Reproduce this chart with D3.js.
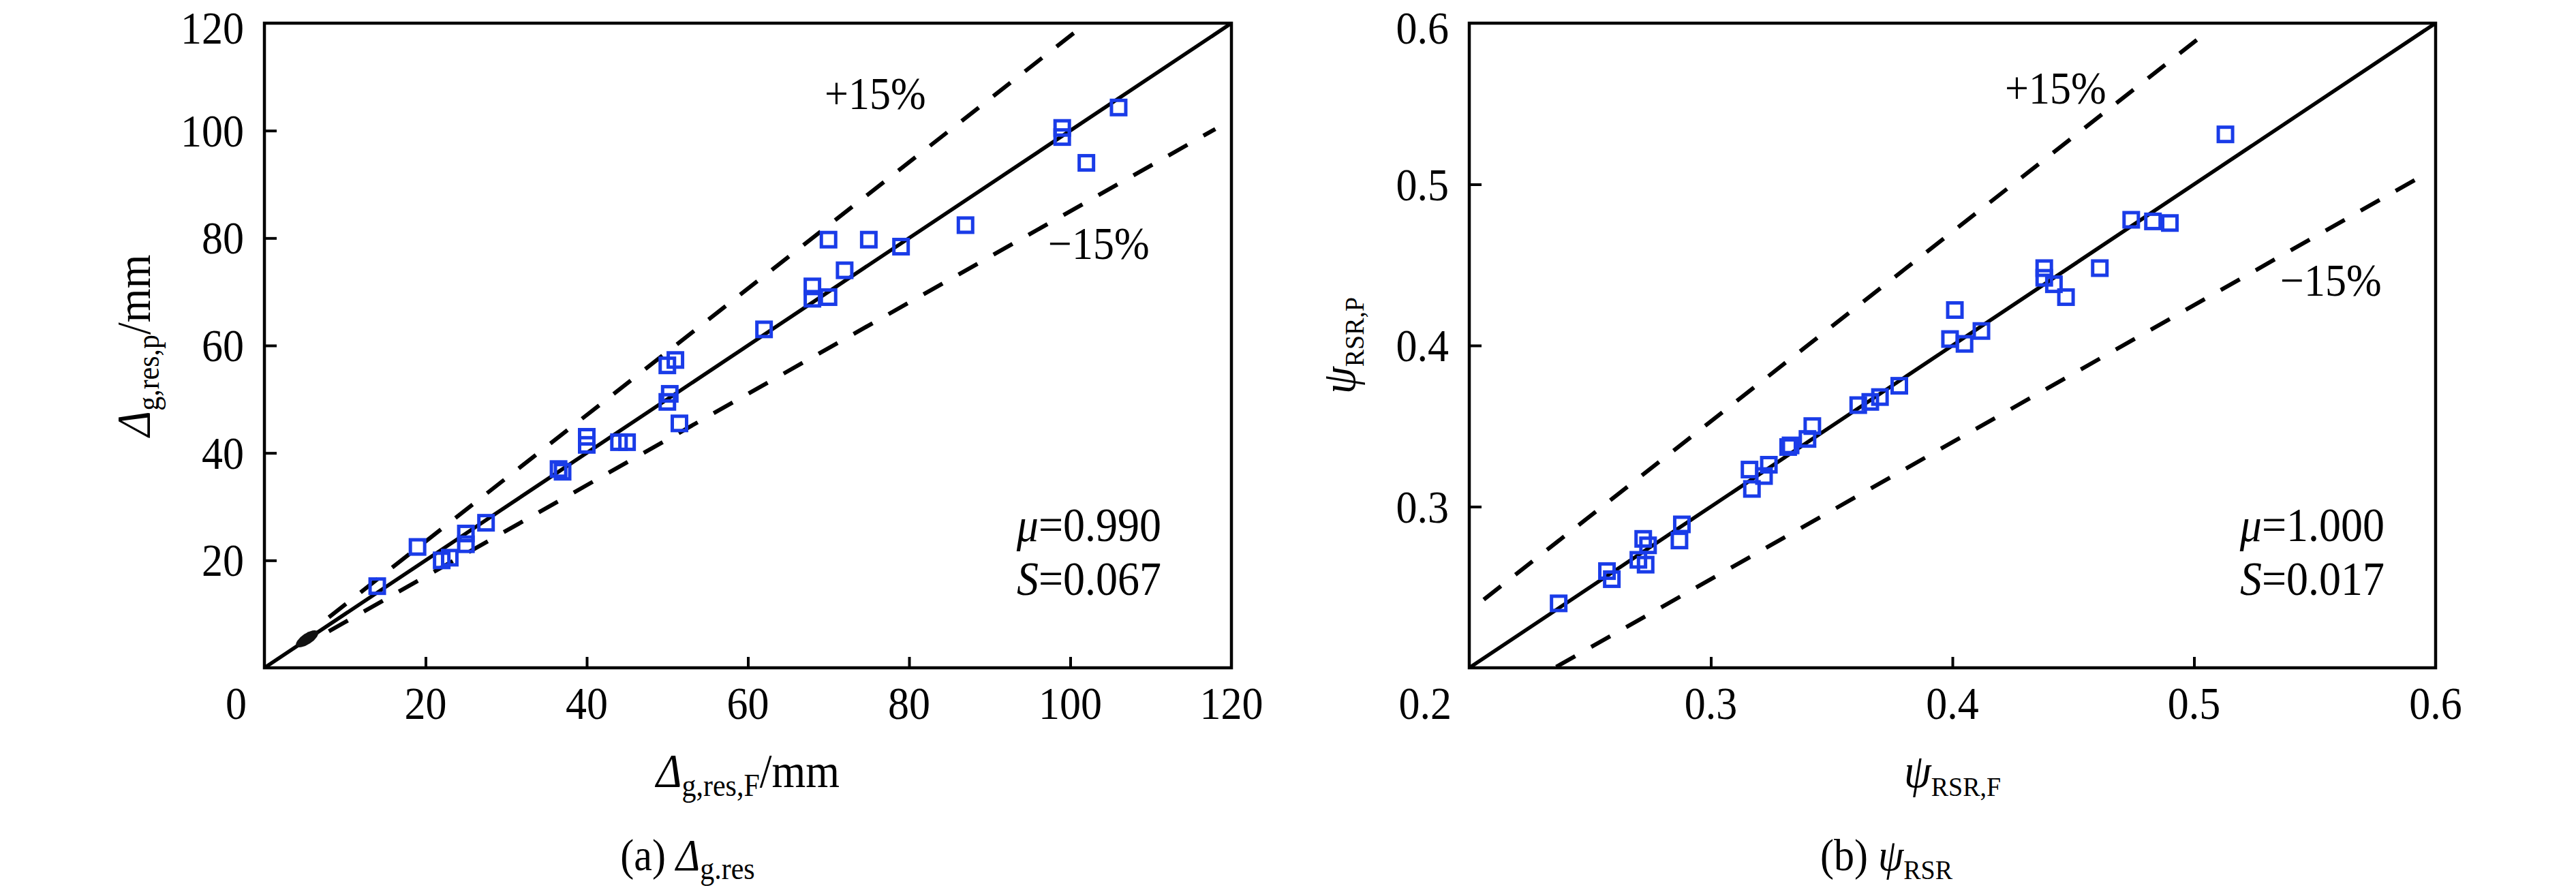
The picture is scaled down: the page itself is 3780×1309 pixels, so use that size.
<!DOCTYPE html>
<html>
<head>
<meta charset="utf-8">
<script src="https://cdn.jsdelivr.net/npm/d3@7"></script>
<style>
  body { margin: 0; background: #fff; }
  text { font-family: "Liberation Serif", "Times New Roman", serif; fill: #000; }
</style>
</head>
<body>
<div id="chart"></div>
<script>
// ---- data ----
// (a) residual drift: FE result vs predicted
const gresF = [14, 19, 22, 23, 25, 25, 27.5, 36.5, 37, 40, 40, 44, 45, 50, 50.3, 50, 51, 51.5,
               62, 68, 68, 70, 70, 72, 75, 79, 87, 99, 99, 102, 106];
const gresP = [15.2, 22.5, 20, 20.5, 23, 25, 27, 37, 36.5, 41.5, 43, 42, 42, 49.5, 51, 56.3, 57.3, 45.5,
               63, 71, 68.7, 69, 79.7, 74, 79.7, 78.4, 82.4, 98.8, 100.5, 94, 104.3];
const gresTicks = [0, 20, 40, 60, 80, 100, 120];
const gresStats = ["0.990", "0.067"];
const gresBlob = [[5.3, 5.4]];

// (b) residual strength ratio
const rsrF = [0.237, 0.257, 0.259, 0.270, 0.272, 0.273, 0.274, 0.287, 0.288, 0.316, 0.317, 0.322,
              0.324, 0.332, 0.333, 0.340, 0.342, 0.361, 0.366, 0.370, 0.378, 0.399, 0.401, 0.405,
              0.412, 0.438, 0.438, 0.442, 0.447, 0.461, 0.474, 0.483, 0.490, 0.513];
const rsrP = [0.240, 0.260, 0.255, 0.267, 0.280, 0.264, 0.276, 0.279, 0.289, 0.323, 0.311, 0.319,
              0.326, 0.337, 0.338, 0.342, 0.350, 0.363, 0.365, 0.368, 0.375, 0.404, 0.422, 0.401,
              0.409, 0.448, 0.442, 0.438, 0.430, 0.448, 0.478, 0.477, 0.476, 0.531];
const rsrTicks = [0.2, 0.3, 0.4, 0.5, 0.6];
const rsrStats = ["1.000", "0.017"];

const bandLabels = ["+15%", "\u221215%"];
const bandFactor = 0.85;

// ---- layout ----
const width = 3780, height = 1309;
const plotTop = 34, plotBottom = 980;
const stretch = 1.08;   // the source type is a little taller than it is wide

const svg = d3.select("#chart").append("svg")
    .attr("width", width)
    .attr("height", height);

svg.append("rect").attr("width", width).attr("height", height).attr("fill", "#fff");

const panels = [
  {
    id: "a", left: 388, right: 1807, ticks: gresTicks, fmt: d3.format("d"),
    xs: gresF, ys: gresP, stats: gresStats, blob: gresBlob,
    upper: [8, 101.6], lower: [8, 118],
    plusPos: [1210, 160], minusPos: [1538, 380], statsRight: 1704,
    yTitleX: 220, caption: 1009,
    sym: "\u0394", subY: "g,res,p", subX: "g,res,F", unit: "/mm",
    capSub: "g.res", capLabel: "(a) ", subSize: 42
  },
  {
    id: "b", left: 2156, right: 3574, ticks: rsrTicks, fmt: d3.format(".1f"),
    xs: rsrF, ys: rsrP, stats: rsrStats, blob: [],
    upper: [0.206, 0.5035], lower: [0.236, 0.594],
    plusPos: [2942, 152], minusPos: [3346, 434], statsRight: 3499,
    yTitleX: 1988, caption: 2768,
    sym: "\u03C8", subY: "RSR,P", subX: "RSR,F", unit: "",
    capSub: "RSR", capLabel: "(b) ", subSize: 38
  }
];

const fontMain = 62;

// text anchored at (tx, ty), slightly stretched vertically
function label(parent, tx, ty, size, anchor, rot) {
  return parent.append("text")
    .attr("transform", `translate(${tx},${ty})${rot ? " rotate(" + rot + ")" : ""} scale(1,${stretch})`)
    .attr("text-anchor", anchor || "start")
    .attr("font-size", size);
}

panels.forEach(p => {
  const dom = [p.ticks[0], p.ticks[p.ticks.length - 1]];
  const x = d3.scaleLinear().domain(dom).range([p.left, p.right]);
  const y = d3.scaleLinear().domain(dom).range([plotBottom, plotTop]);
  const g = svg.append("g");

  g.append("clipPath").attr("id", "clip-" + p.id)
    .append("rect")
    .attr("x", p.left).attr("y", plotTop)
    .attr("width", p.right - p.left).attr("height", plotBottom - plotTop);

  // inner ticks
  const inner = p.ticks.slice(1, -1);
  g.append("g")
    .attr("transform", `translate(0,${plotBottom})`)
    .call(d3.axisBottom(x).tickValues(inner).tickSize(-16).tickFormat(""))
    .call(a => a.select(".domain").remove())
    .call(a => a.selectAll("line").attr("stroke", "#000").attr("stroke-width", 4));
  g.append("g")
    .attr("transform", `translate(${p.left},0)`)
    .call(d3.axisLeft(y).tickValues(inner).tickSize(-18).tickFormat(""))
    .call(a => a.select(".domain").remove())
    .call(a => a.selectAll("line").attr("stroke", "#000").attr("stroke-width", 4));

  const plot = g.append("g").attr("clip-path", `url(#clip-${p.id})`);

  // 1:1 line
  plot.append("line")
    .attr("x1", x(dom[0])).attr("y1", y(dom[0]))
    .attr("x2", x(dom[1])).attr("y2", y(dom[1]))
    .attr("stroke", "#000").attr("stroke-width", 5.5);

  // +/-15% lines
  const dash = [
    { f: 1 / bandFactor, r: p.upper },
    { f: bandFactor, r: p.lower }
  ];
  plot.selectAll(".band").data(dash).join("line")
    .attr("x1", d => x(d.r[0])).attr("y1", d => y(d.r[0] * d.f))
    .attr("x2", d => x(d.r[1])).attr("y2", d => y(d.r[1] * d.f))
    .attr("stroke", "#000").attr("stroke-width", 6)
    .attr("stroke-dasharray", "32,27");

  plot.selectAll(".blob").data(p.blob).join("ellipse")
    .attr("transform", d => {
      const ang = Math.atan2(y(d[1] + 1) - y(d[1]), x(d[0] + 1) - x(d[0])) * 180 / Math.PI;
      return `translate(${x(d[0])},${y(d[1])}) rotate(${ang})`;
    })
    .attr("rx", 19).attr("ry", 8).attr("fill", "#111");

  // markers
  const pts = p.xs.map((v, i) => [v, p.ys[i]]);
  plot.selectAll(".pt").data(pts).join("rect")
    .attr("x", d => x(d[0]) - 10.5).attr("y", d => y(d[1]) - 10.5)
    .attr("width", 21).attr("height", 21)
    .attr("fill", "none").attr("stroke", "#1a3ce8").attr("stroke-width", 5);

  // frame
  g.append("rect")
    .attr("x", p.left).attr("y", plotTop)
    .attr("width", p.right - p.left).attr("height", plotBottom - plotTop)
    .attr("fill", "none").attr("stroke", "#000").attr("stroke-width", 4.5);

  // tick labels
  p.ticks.forEach((d, i) => {
    label(g, i === 0 ? p.left - 26 : x(d), 1055, fontMain, i === 0 ? "end" : "middle").text(p.fmt(d));
  });
  const last = p.ticks.length - 2;
  p.ticks.slice(1).forEach((d, i) => {
    label(g, p.left - 30, y(d) + (i === last ? 30 : 23), fontMain, "end").text(p.fmt(d));
  });

  // axis titles
  const title = (sel, sub) => {
    sel.append("tspan").attr("font-style", "italic").text(p.sym);
    sel.append("tspan").attr("font-size", p.subSize).attr("dy", 12).text(sub);
    if (p.unit) sel.append("tspan").attr("dy", -12).text(p.unit);
  };
  title(label(g, (p.left + p.right) / 2, 1155, 64, "middle"), p.subX);
  title(label(g, p.yTitleX, (plotTop + plotBottom) / 2, 64, "middle", -90), p.subY);

  // caption
  const cap = label(g, p.caption, 1277, 60, "middle");
  cap.append("tspan").text(p.capLabel);
  cap.append("tspan").attr("font-style", "italic").text(p.sym);
  cap.append("tspan").attr("font-size", p.subSize).attr("dy", 12).text(p.capSub);

  // band labels
  label(g, p.plusPos[0], p.plusPos[1], fontMain).text(bandLabels[0]);
  label(g, p.minusPos[0], p.minusPos[1], fontMain).text(bandLabels[1]);

  // statistics
  const st = [["\u03BC", p.stats[0], 794], ["S", p.stats[1], 873]];
  st.forEach(s => {
    const t = label(g, p.statsRight, s[2], 64, "end");
    t.append("tspan").attr("font-style", "italic").text(s[0]);
    t.append("tspan").text("=" + s[1]);
  });
});
</script>
</body>
</html>
